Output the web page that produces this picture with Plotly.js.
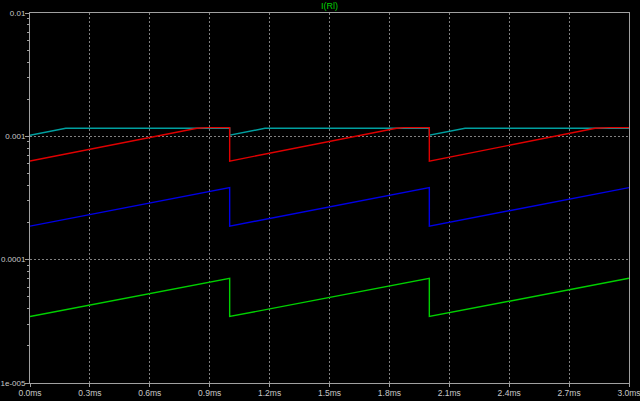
<!DOCTYPE html>
<html>
<head>
<meta charset="utf-8">
<script src="https://cdn.plot.ly/plotly-3.0.1.min.js"></script>
<style>html,body{margin:0;padding:0;background:#000;}#chart{width:640px;height:401px;}</style>
</head>
<body>
<div id="chart"></div>
<script>
// time axis in ms
const xTickVals = [0, 0.3, 0.6, 0.9, 1.2, 1.5, 1.8, 2.1, 2.4, 2.7, 3.0];
const xTickText = ["0.0ms","0.3ms","0.6ms","0.9ms","1.2ms","1.5ms","1.8ms","2.1ms","2.4ms","2.7ms","3.0ms"];
const yTickVals = [1e-5, 1e-4, 1e-3, 1e-2];
const yTickText = ["1e-005","0.0001","0.001","0.01"];

const tCyan = [0, 0.179, 1.0, 1.0, 1.177, 2.0, 2.0, 2.179, 3.0];
const iCyan = [1.02e-3, 1.163e-3, 1.163e-3, 1.02e-3, 1.163e-3, 1.163e-3, 1.02e-3, 1.163e-3, 1.163e-3];

const tRed = [0, 0.836, 0.887, 1.0, 1.0, 1.836, 1.873, 2.0, 2.0, 2.83, 2.9, 3.0];
const iRed = [6.3e-4, 1.163e-3, 1.176e-3, 1.176e-3, 6.3e-4, 1.163e-3, 1.176e-3, 1.176e-3, 6.3e-4, 1.163e-3, 1.176e-3, 1.176e-3];

const tBlue = [0, 1.0, 1.0, 2.0, 2.0, 3.0];
const iBlue = [1.87e-4, 3.84e-4, 1.87e-4, 3.84e-4, 1.87e-4, 3.84e-4];

const tGreen = [0, 1.0, 1.0, 2.0, 2.0, 3.0];
const iGreen = [3.46e-5, 7.06e-5, 3.46e-5, 7.06e-5, 3.46e-5, 7.06e-5];

const seriesColors = {cyan: "#00a0a0", red: "#e00000", blue: "#0000e6", green: "#00d000"};

const mk = (x, y, c) => ({x: x, y: y, type: "scatter", mode: "lines",
  line: {color: c, width: 1.4}, hoverinfo: "skip", showlegend: false});

const data = [
  mk(tCyan, iCyan, seriesColors.cyan),
  mk(tRed, iRed, seriesColors.red),
  mk(tBlue, iBlue, seriesColors.blue),
  mk(tGreen, iGreen, seriesColors.green)
];

const fam = "Liberation Sans, Arial, sans-serif";
const layout = {
  width: 640, height: 401,
  paper_bgcolor: "#000", plot_bgcolor: "#000",
  margin: {l: 30, r: 11, t: 13, b: 18, pad: 0},
  showlegend: false,
  title: {text: "I(Rl)", font: {family: fam, size: 9, color: "#00d000"},
    x: 0.515, xanchor: "center", y: 1 - 6/401, yanchor: "middle"},
  xaxis: {
    range: [0, 3], tickmode: "array", tickvals: xTickVals, ticktext: xTickText,
    showgrid: true, gridcolor: "#808080", griddash: "2px,2px", gridwidth: 1,
    zeroline: false, showline: true, linecolor: "#a0a0a0", linewidth: 1, mirror: true,
    ticks: "outside", ticklen: 3, tickcolor: "#a0a0a0",
    tickfont: {family: fam, size: 8.5, color: "#c8c8c8"},
    ticklabeloverflow: "allow", ticklabelstandoff: -1
  },
  yaxis: {
    type: "log", range: [-5, -2], tickmode: "array", tickvals: yTickVals, ticktext: yTickText,
    showgrid: true, gridcolor: "#808080", griddash: "2px,2px", gridwidth: 1,
    zeroline: false, showline: true, linecolor: "#a0a0a0", linewidth: 1, mirror: true,
    ticks: "outside", ticklen: 4, tickcolor: "#a0a0a0",
    tickfont: {family: fam, size: 8, color: "#c8c8c8"},
    ticklabeloverflow: "allow", ticklabelstandoff: -2,
    minor: {ticks: "outside", ticklen: 2, tickcolor: "#a0a0a0", dtick: "D1", showgrid: false}
  }
};

Plotly.newPlot("chart", data, layout, {staticPlot: true, displayModeBar: false});
</script>
</body>
</html>
